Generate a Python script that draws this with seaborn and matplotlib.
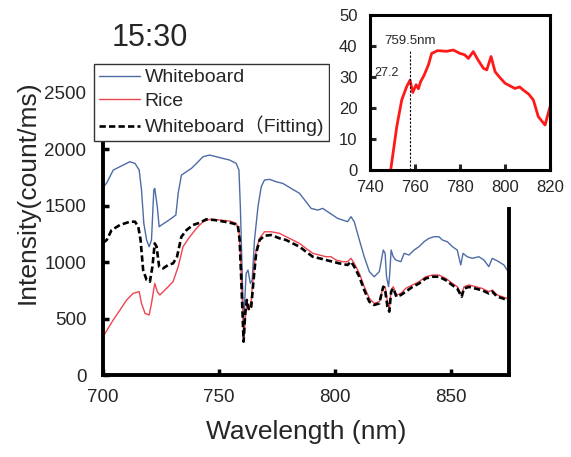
import numpy as np
import pandas as pd
import matplotlib
matplotlib.use("Agg")
import matplotlib.pyplot as plt
import seaborn as sns
from matplotlib.patches import Rectangle

# Whiteboard spectrum (count/ms)
wb_wl = [700, 701.6, 704.4, 707.3, 711.6, 713.8, 715.6, 716.6, 717.6, 718.8, 719.9, 720.9,
         721.9, 722.3, 723.4, 724.2, 725.2, 727.4, 729.5, 731.4, 732.4, 733.8, 736.0, 738.1,
         740.3, 743.1, 746.0, 748.9, 751.7, 754.6, 757.4, 758.6, 759.2, 760.0, 760.6, 761.7,
         762.5, 763.5, 764.3, 765.3, 766.8, 768.2, 769.6, 771.8, 774.6, 777.5, 781.1, 784.7,
         787.5, 789.7, 792.6, 794.7, 796.8, 799.0, 801.1, 803.3, 805.4, 806.9, 808.3, 810.5,
         812.6, 814.8, 816.9, 819.1, 820.8, 821.6, 822.2, 823.1, 823.6, 824.2, 825.1, 826.2,
         828.4, 829.8, 831.9, 834.1, 836.2, 838.4, 840.5, 842.7, 844.8, 846.3, 848.4, 850.6,
         852.7, 854.2, 855.2, 857.0, 859.2, 862.0, 864.2, 866.3, 867.8, 870.6, 872.8, 874.5]
wb_val = [1660, 1700, 1814, 1844, 1888, 1873, 1814, 1637, 1342, 1195, 1136, 1195,
          1637, 1652, 1490, 1313, 1328, 1357, 1387, 1416, 1608, 1770, 1800, 1829,
          1873, 1932, 1947, 1932, 1917, 1903, 1873, 1814, 1490, 900, 460, 900,
          929, 811, 841, 1195, 1490, 1667, 1726, 1732, 1711, 1696, 1652, 1608,
          1534, 1475, 1460, 1475, 1446, 1416, 1387, 1372, 1357, 1401, 1357, 1195,
          1047, 915, 870, 915, 1106, 1077, 870, 782, 900, 1106, 1047, 1018,
          1003, 1077, 1062, 1106, 1136, 1180, 1210, 1224, 1224, 1195, 1180, 1136,
          1106, 974, 1077, 1047, 1033, 1047, 1018, 959, 1033, 1003, 974, 920]

# Rice spectrum
rice_wl = [700, 700.9, 704.4, 707.3, 710.2, 713.0, 715.6, 716.6, 718.1, 719.9, 720.9, 722.3,
           723.4, 724.5, 727.4, 730.2, 732.4, 734.5, 737.4, 740.3, 743.1, 746.0, 750.3, 754.6,
           757.4, 758.6, 759.3, 760.0, 760.7, 761.5, 762.0, 762.9, 763.9, 764.9, 766.0, 767.5,
           769.6, 772.5, 776.1, 778.9, 781.8, 784.7, 787.5, 790.4, 793.3, 796.1, 798.3, 800.4,
           803.3, 805.4, 806.9, 808.3, 810.5, 812.6, 814.8, 816.9, 819.1, 820.8, 821.6, 822.5,
           823.4, 824.2, 825.1, 826.5, 828.4, 830.5, 833.4, 836.2, 839.1, 842.0, 844.8, 847.7,
           850.6, 852.7, 854.6, 855.6, 857.7, 860.6, 863.4, 866.3, 867.8, 869.9, 872.1, 874.5]
rice_val = [340, 369, 487, 575, 664, 723, 738, 634, 546, 531, 634, 811,
            738, 708, 767, 826, 959, 1136, 1224, 1298, 1357, 1378, 1372, 1363,
            1342, 1283, 1047, 664, 310, 546, 634, 575, 664, 900, 1106, 1210,
            1268, 1268, 1254, 1224, 1195, 1165, 1121, 1077, 1062, 1047, 1047, 1018,
            1003, 1003, 1033, 988, 900, 782, 679, 634, 649, 782, 782, 664,
            590, 752, 782, 708, 723, 767, 797, 826, 870, 885, 885, 856,
            811, 782, 708, 782, 797, 782, 767, 738, 752, 708, 693, 675]

# Whiteboard fitted to rice
fit_wl = [700, 701.6, 703.7, 707.3, 711.6, 713.8, 715.2, 716.2, 717.3, 718.8, 720.2, 721.3,
          722.3, 723.1, 724.2, 725.9, 728.1, 730.2, 731.9, 733.8, 736.0, 738.8, 741.7, 744.5,
          748.1, 752.4, 756.0, 758.1, 758.9, 759.6, 760.6, 761.3, 762.0, 762.9, 763.9, 764.9,
          766.0, 767.5, 769.6, 772.5, 776.1, 778.9, 781.8, 784.7, 787.5, 790.4, 793.3, 796.1,
          799.0, 801.9, 805.4, 806.9, 808.3, 810.5, 812.6, 814.8, 816.9, 819.1, 820.8, 821.6,
          822.6, 823.4, 824.2, 825.1, 826.5, 828.4, 830.5, 833.4, 836.2, 839.1, 842.0, 844.8,
          847.7, 850.6, 852.7, 854.6, 855.6, 857.7, 860.6, 863.4, 866.3, 867.8, 869.9, 872.1, 874.5]
fit_val = [1170, 1195, 1283, 1328, 1357, 1357, 1313, 1195, 929, 841, 826, 959,
           1165, 1136, 959, 944, 974, 988, 1047, 1224, 1283, 1328, 1348, 1378,
           1372, 1357, 1342, 1328, 1195, 841, 295, 546, 664, 575, 605, 841,
           1077, 1195, 1233, 1239, 1210, 1195, 1165, 1136, 1092, 1047, 1033, 1018,
           1003, 988, 974, 1003, 959, 870, 752, 649, 620, 634, 782, 752,
           605, 561, 738, 767, 693, 708, 738, 780, 810, 855, 870, 870,
           840, 795, 765, 693, 765, 780, 765, 750, 722, 738, 693, 680, 660]

# inset: rice, 740-820 nm
ins_wl = [749.2, 751.9, 754.1, 756.3, 757.8, 759.0, 760.5, 761.5, 762.5, 764.0, 766.0,
          767.4, 770.0, 774.0, 777.0, 780.0, 782.0, 783.7, 785.9, 788.0, 790.4, 791.9,
          793.8, 795.6, 797.5, 800.0, 804.4, 806.5, 808.1, 810.5, 812.6, 814.8, 817.8, 820.0]
ins_val = [0, 14.0, 22.6, 26.9, 29.0, 25.0, 27.5, 26.2, 28.5, 30.5, 34.0,
           37.6, 38.5, 38.3, 38.7, 37.6, 37.2, 36.0, 38.2, 35.5, 32.8, 32.3,
           36.6, 31.7, 30.0, 28.0, 26.3, 26.8, 25.8, 24.5, 22.6, 17.2, 14.5, 20.4]
peak_wl = 757.6
peak_label = "759.5nm"
peak_val_label = "27.2"

sns.set_theme(style="ticks")
plt.rcParams["font.family"] = ["Liberation Sans", "Noto Sans CJK JP", "DejaVu Sans"]
txt = "#262626"

fig = plt.figure(figsize=(5.71, 4.57), dpi=100)
ax = fig.add_axes([103 / 571, 1 - 375 / 457, 406 / 571, 305 / 457])

sns.lineplot(x=wb_wl, y=wb_val, ax=ax, color="#4d6ca6", lw=1.0, label="Whiteboard")
sns.lineplot(x=rice_wl, y=rice_val, ax=ax, color="#ee4550", lw=1.0, label="Rice")
sns.lineplot(x=fit_wl, y=fit_val, ax=ax, color="black", lw=1.9, linestyle=(0, (2.4, 1.2)),
             label="Whiteboard（Fitting)")

ax.set_xlim(700, 875)
ax.set_ylim(0, 2700)
ax.set_xticks([700, 750, 800, 850])
ax.set_yticks([0, 500, 1000, 1500, 2000, 2500])
ax.tick_params(direction="in", length=4, width=2.5, labelsize=13.5, colors="black",
               labelcolor=txt)
ax.tick_params(axis="x", pad=10)
ax.tick_params(axis="y", pad=12)
for s in ["left", "bottom", "right"]:
    ax.spines[s].set_linewidth(2.8)
    ax.spines[s].set_color("black")
ax.spines["top"].set_visible(False)
ax.set_xlabel("Wavelength (nm)", fontsize=19, color=txt, labelpad=10)
ax.set_ylabel("Intensity(count/ms)", fontsize=19, color=txt)
ax.yaxis.set_label_coords(-0.155, 0.6)

leg = ax.legend(loc="upper left", bbox_to_anchor=(94 / 571, 1 - 64 / 457),
                bbox_transform=fig.transFigure, borderaxespad=0, fontsize=14,
                frameon=True, fancybox=False, framealpha=1, edgecolor="#333333",
                borderpad=0.25, labelspacing=0.3, handlelength=2.1, handletextpad=0.25)
leg.get_frame().set_linewidth(1.0)
for t in leg.get_texts():
    t.set_color(txt)

fig.text(150 / 571, 1 - 38 / 457, "15:30", fontsize=22, ha="center", va="center", color=txt)

# white area behind the inset hides the top of the main frame
fig.patches.append(Rectangle((330 / 571, 1 - 207 / 457), 1, 1, transform=fig.transFigure,
                             facecolor="white", edgecolor="none", zorder=1))

ins = fig.add_axes([370 / 571, 1 - 170 / 457, 180 / 571, 155 / 457])
ins.set_zorder(2)
sns.lineplot(x=ins_wl, y=ins_val, ax=ins, color="#ff1a1a", lw=2.0)
ins.axvline(peak_wl, ymax=38.7 / 50, color="black", lw=0.8, linestyle=(0, (2, 1.5)))
ins.text(peak_wl, 41.5, peak_label, ha="center", va="center", fontsize=9.5, color=txt)
ins.text(742.0, 31.2, peak_val_label, ha="left", va="center", fontsize=9, color=txt)
ins.set_xlim(740, 820)
ins.set_ylim(0, 50)
ins.set_xticks([740, 760, 780, 800, 820])
ins.set_yticks([0, 10, 20, 30, 40, 50])
ins.tick_params(direction="in", length=4, width=2.2, labelsize=12, labelcolor=txt)
ins.tick_params(axis="x", pad=7)
ins.tick_params(axis="y", pad=9)
for s in ins.spines.values():
    s.set_linewidth(2.2)
    s.set_color("black")

fig.savefig("out.png", dpi=100, facecolor="white")
